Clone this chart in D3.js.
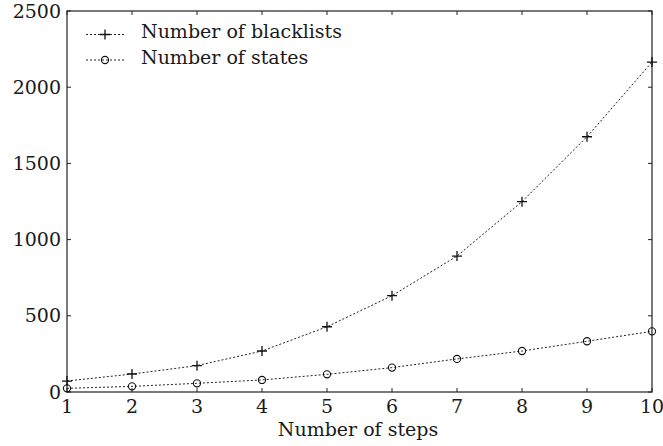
<!DOCTYPE html>
<html>
<head>
<meta charset="utf-8">
<script src="https://cdn.jsdelivr.net/npm/d3@7"></script>
<style>
  html, body { margin: 0; padding: 0; background: #fff; }
  svg { display: block; }
</style>
</head>
<body>
<svg id="chart" width="663" height="446"></svg>
<script>
// Number of steps on the x axis
const steps = [1, 2, 3, 4, 5, 6, 7, 8, 9, 10];
// Series values
const blacklists = [72, 118, 173, 269, 428, 632, 892, 1249, 1675, 2165];
const states = [24, 37, 57, 79, 116, 160, 217, 269, 333, 398];
// Tick labels
const xTicks = [1, 2, 3, 4, 5, 6, 7, 8, 9, 10];
const yTicks = [0, 500, 1000, 1500, 2000, 2500];
const seriesNames = ["Number of blacklists", "Number of states"];

const svg = d3.select("#chart")
  .attr("font-family", "'DejaVu Serif', 'Liberation Serif', serif");
const plotLeft = 67, plotRight = 652, plotTop = 11, plotBottom = 392;

const x = d3.scaleLinear().domain([1, 10]).range([plotLeft, plotRight]);
const y = d3.scaleLinear().domain([0, 2500]).range([plotBottom, plotTop]);

const fontSize = 19;
const ink = "#1a1a1a";

// Frame
svg.append("rect")
  .attr("x", plotLeft).attr("y", plotTop)
  .attr("width", plotRight - plotLeft).attr("height", plotBottom - plotTop)
  .attr("fill", "none").attr("stroke", "#222").attr("stroke-width", 1.2);

// Inward ticks on all four sides
const tickLen = 4;
const tickG = svg.append("g").attr("stroke", "#222").attr("stroke-width", 1);
xTicks.forEach(t => {
  tickG.append("line").attr("x1", x(t)).attr("x2", x(t)).attr("y1", plotBottom).attr("y2", plotBottom - tickLen);
  tickG.append("line").attr("x1", x(t)).attr("x2", x(t)).attr("y1", plotTop).attr("y2", plotTop + tickLen);
});
yTicks.forEach(t => {
  tickG.append("line").attr("x1", plotLeft).attr("x2", plotLeft + tickLen).attr("y1", y(t)).attr("y2", y(t));
  tickG.append("line").attr("x1", plotRight).attr("x2", plotRight - tickLen).attr("y1", y(t)).attr("y2", y(t));
});

// Tick labels
svg.append("g").selectAll("text").data(xTicks).join("text")
  .attr("x", d => x(d)).attr("y", 413)
  .attr("text-anchor", "middle")
  .attr("font-size", fontSize).attr("fill", ink)
  .text(d => d);

svg.append("g").selectAll("text").data(yTicks).join("text")
  .attr("x", 61).attr("y", d => y(d) + 6.5)
  .attr("text-anchor", "end")
  .attr("font-size", fontSize).attr("fill", ink)
  .text(d => d);

// Axis title
svg.append("text")
  .attr("x", 358).attr("y", 436)
  .attr("text-anchor", "middle")
  .attr("font-size", fontSize).attr("fill", ink)
  .text("Number of steps");

// Series
const line = d3.line().x((d, i) => x(steps[i])).y(d => y(d));
const dash = "2,2";

function drawPlus(g, cx, cy) {
  g.append("path")
    .attr("d", `M${cx - 5},${cy}H${cx + 5}M${cx},${cy - 5}V${cy + 5}`)
    .attr("stroke", "#111").attr("stroke-width", 1.3).attr("fill", "none");
}
function drawCircle(g, cx, cy) {
  g.append("circle").attr("cx", cx).attr("cy", cy).attr("r", 3.6)
    .attr("fill", "none").attr("stroke", "#111").attr("stroke-width", 1.1);
}

svg.append("path").datum(blacklists)
  .attr("d", line).attr("fill", "none")
  .attr("stroke", "#222").attr("stroke-width", 1).attr("stroke-dasharray", dash);
svg.append("path").datum(states)
  .attr("d", line).attr("fill", "none")
  .attr("stroke", "#222").attr("stroke-width", 1).attr("stroke-dasharray", dash);

const markG = svg.append("g");
blacklists.forEach((v, i) => drawPlus(markG, x(steps[i]), y(v)));
states.forEach((v, i) => drawCircle(markG, x(steps[i]), y(v)));

// Legend
const legend = svg.append("g");
const markers = [drawPlus, drawCircle];
seriesNames.forEach((name, i) => {
  const ly = 34.5 + i * 25.5;
  legend.append("line")
    .attr("x1", 86).attr("x2", 124).attr("y1", ly).attr("y2", ly)
    .attr("stroke", "#222").attr("stroke-width", 1).attr("stroke-dasharray", dash);
  markers[i](legend, 105, ly);
  legend.append("text")
    .attr("x", 141).attr("y", ly + 3.5)
    .attr("font-size", fontSize).attr("fill", ink)
    .text(name);
});
</script>
</body>
</html>
